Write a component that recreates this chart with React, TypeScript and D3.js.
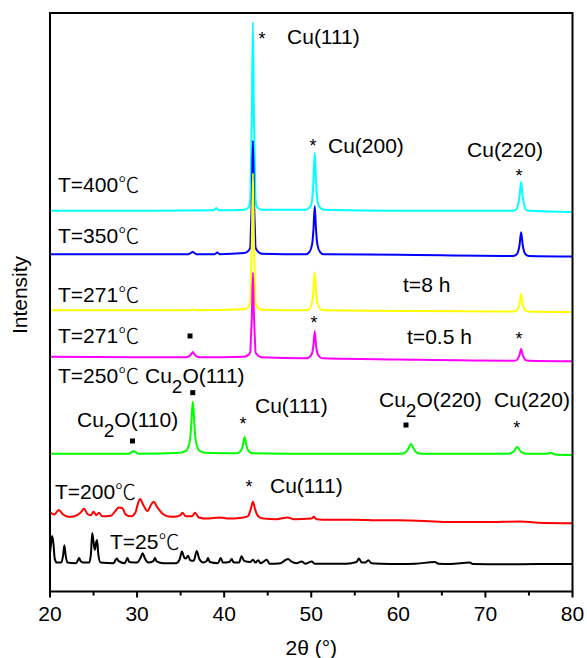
import React from "react";
import * as d3 from "d3";

// ---------- data (2θ in degrees, intensity in arbitrary offset units) ----------
const xTicks = [20, 30, 40, 50, 60, 70, 80];
const xMinorTicks = [25, 35, 45, 55, 65, 75];

const cyan400: [number, number][] = [
  [20, 65.8], [30, 65.8], [38.8, 65.9], [39.1, 66.3], [39.4, 65.9], [42.3, 66.0], [42.8, 66.4],
  [43.0, 67.8], [43.06, 72.3], [43.18, 82.1], [43.3, 98.4], [43.42, 82.1], [43.54, 72.3], [43.6, 67.8],
  [43.8, 66.4], [44.3, 66.0], [49.4, 66.0], [49.8, 66.4], [50.0, 66.9], [50.1, 67.8], [50.25, 70.8],
  [50.4, 75.8], [50.55, 70.8], [50.7, 67.8], [50.8, 66.9], [51.0, 66.4], [51.4, 66.0], [60, 65.8],
  [73.2, 65.8], [73.6, 66.1], [73.74, 66.8], [73.92, 68.3], [74.1, 70.8], [74.28, 68.3], [74.46, 66.8],
  [74.6, 66.1], [75.0, 65.8], [80, 65.6],
];
const blue350: [number, number][] = [
  [20, 58.3], [35.9, 58.3], [36.4, 58.7], [36.8, 58.3], [38.9, 58.3], [39.2, 58.6], [39.5, 58.3],
  [42.3, 58.5], [42.8, 58.9], [43.0, 59.5], [43.06, 62.2], [43.18, 68.1], [43.3, 77.9], [43.42, 68.1],
  [43.54, 62.2], [43.6, 59.5], [43.8, 58.9], [44.3, 58.4], [49.4, 58.3], [49.8, 58.7], [50.1, 60.0],
  [50.25, 62.5], [50.4, 66.6], [50.55, 62.5], [50.7, 60.0], [51.0, 58.7], [51.4, 58.3], [60, 58.2],
  [73.2, 58.0], [73.6, 58.3], [73.74, 58.7], [73.92, 59.9], [74.1, 62.1], [74.28, 59.9], [74.46, 58.7],
  [74.6, 58.3], [75.0, 58.0], [80, 57.9],
];
const yellow271_8h: [number, number][] = [
  [20, 48.6], [36.1, 48.6], [36.4, 48.8], [36.7, 48.6], [42.3, 48.8], [42.8, 49.2], [43.0, 50.0],
  [43.06, 53.3], [43.18, 60.4], [43.3, 72.3], [43.42, 60.4], [43.54, 53.3], [43.6, 50.0], [43.8, 49.2],
  [44.3, 48.7], [49.4, 48.6], [49.8, 48.9], [50.1, 50.0], [50.25, 51.9], [50.4, 55.2], [50.55, 51.9],
  [50.7, 50.0], [51.0, 48.9], [51.4, 48.6], [60, 48.5], [73.2, 48.4], [73.6, 48.6], [73.74, 48.9],
  [73.92, 49.7], [74.1, 51.4], [74.28, 49.7], [74.46, 48.9], [74.6, 48.6], [75.0, 48.4], [80, 48.3],
];
const magenta271_05h: [number, number][] = [
  [20, 40.6], [30, 40.5], [35.6, 40.5], [36.0, 40.7], [36.2, 41.0], [36.4, 41.4], [36.6, 41.0],
  [36.8, 40.7], [37.2, 40.5], [42.3, 40.6], [42.8, 40.9], [43.0, 41.4], [43.06, 43.3], [43.18, 47.7],
  [43.3, 55.1], [43.42, 47.7], [43.54, 43.3], [43.6, 41.4], [43.8, 40.9], [44.3, 40.5], [49.4, 40.3],
  [49.8, 40.5], [50.1, 41.2], [50.25, 42.6], [50.4, 45.0], [50.55, 42.6], [50.7, 41.2], [51.0, 40.5],
  [51.4, 40.3], [60, 40.1], [73.2, 39.9], [73.6, 40.0], [73.74, 40.3], [73.92, 40.9], [74.1, 41.9],
  [74.28, 40.9], [74.46, 40.3], [74.6, 40.0], [75.0, 39.9], [80, 39.8],
];
const green250: [number, number][] = [
  [20, 23.8], [29.0, 23.8], [29.4, 24.1], [29.6, 24.3], [29.8, 24.1], [30.2, 23.8], [35.0, 24.0],
  [35.6, 24.3], [36.0, 25.6], [36.2, 28.3], [36.3, 31.0], [36.4, 32.8], [36.5, 31.0], [36.6, 28.3],
  [36.8, 25.6], [37.2, 24.3], [37.8, 24.0], [41.5, 23.9], [41.95, 24.4], [42.15, 25.3], [42.35, 26.7],
  [42.55, 25.3], [42.75, 24.4], [43.2, 23.9], [50, 23.8], [60.3, 23.8], [60.85, 24.1], [61.15, 24.7],
  [61.45, 25.5], [61.75, 24.7], [62.05, 24.1], [62.6, 23.8], [72.6, 23.8], [73.05, 24.0], [73.35, 24.4],
  [73.65, 25.0], [73.95, 24.4], [74.25, 24.0], [74.8, 23.8], [77.0, 23.8], [77.5, 24.0], [78.0, 23.7],
  [80, 23.6],
];
const red200: [number, number][] = [
  [20.0, 13.7], [20.5, 13.3], [21.0, 14.1], [21.5, 13.3], [22.2, 12.9], [22.8, 13.0], [23.5, 13.6],
  [23.9, 14.3], [24.3, 13.4], [24.7, 13.2], [25.0, 13.8], [25.3, 13.2], [25.6, 13.6], [26.0, 13.0],
  [27.0, 13.1], [27.5, 13.9], [27.9, 14.5], [28.3, 14.4], [28.7, 13.3], [29.3, 13.0], [29.8, 13.6],
  [30.1, 15.2], [30.35, 16.0], [30.7, 15.0], [31.2, 13.9], [31.6, 15.0], [31.9, 15.5], [32.3, 14.6],
  [32.9, 13.5], [33.5, 13.0], [34.2, 12.9], [35.0, 13.2], [35.2, 13.6], [35.6, 13.0], [36.3, 13.0],
  [36.65, 13.6], [37.1, 12.8], [38, 12.6], [39.5, 12.8], [40.5, 12.6], [41.8, 12.7], [42.7, 13.0],
  [43.05, 14.2], [43.3, 15.5], [43.55, 14.2], [43.9, 13.0], [44.5, 12.6], [46, 12.5], [47.3, 12.8],
  [48, 12.5], [50.0, 12.6], [50.3, 12.9], [50.6, 12.5], [52, 12.4], [55, 12.4], [58, 12.3], [60, 12.3],
  [63, 12.2], [66, 12.0], [70, 12.0], [74, 12.1], [76, 11.9], [80, 11.8],
];
const black25: [number, number][] = [
  [20.0, 6.5], [20.1, 8.0], [20.25, 9.6], [20.4, 8.2], [20.55, 5.6], [20.8, 5.0], [21.3, 5.0],
  [21.5, 6.2], [21.65, 8.0], [21.8, 6.2], [22.0, 5.0], [23.0, 4.9], [23.2, 5.4], [23.35, 5.8],
  [23.5, 5.3], [23.8, 5.0], [24.5, 5.0], [24.7, 6.5], [24.85, 10.1], [25.05, 8.0], [25.15, 7.2],
  [25.3, 8.5], [25.4, 8.9], [25.55, 6.4], [25.8, 5.0], [27.3, 4.9], [27.55, 5.5], [27.7, 5.7],
  [27.85, 5.3], [28.6, 4.9], [28.9, 5.8], [29.1, 5.1], [30.0, 5.0], [30.4, 5.8], [30.65, 6.6],
  [30.9, 5.7], [31.3, 5.0], [31.9, 5.3], [32.05, 5.8], [32.25, 5.2], [33, 4.9], [34.5, 4.9],
  [34.9, 5.6], [35.15, 6.9], [35.4, 5.9], [35.6, 5.7], [35.85, 6.2], [36.1, 5.4], [36.5, 5.3],
  [36.85, 7.0], [37.15, 5.6], [37.6, 5.0], [38.0, 5.3], [38.15, 5.8], [38.35, 5.1], [39.3, 4.9],
  [39.6, 5.8], [39.85, 5.0], [40.6, 5.1], [40.86, 5.6], [41.1, 5.0], [41.7, 5.0], [42.0, 6.1],
  [42.3, 5.3], [43.0, 5.1], [43.3, 5.5], [43.6, 5.0], [43.9, 5.4], [44.2, 4.9], [44.9, 5.5],
  [45.2, 4.8], [46.5, 4.9], [47.0, 5.4], [47.35, 5.6], [47.7, 5.2], [48.3, 4.9], [48.9, 5.2],
  [49.3, 4.8], [50.05, 5.2], [50.4, 4.8], [52, 4.8], [54, 4.8], [55.2, 5.1], [55.48, 5.7],
  [55.8, 5.0], [56.2, 5.0], [56.55, 5.4], [56.9, 4.9], [58, 4.8], [60, 4.75], [62, 4.8], [64.2, 5.1],
  [64.6, 4.8], [66, 4.75], [68.2, 5.0], [68.6, 4.75], [72, 4.7], [76, 4.75], [80, 4.75],
];

const seriesNames = ["T=400℃", "T=350℃", "T=271℃ t=8 h", "T=271℃ t=0.5 h", "T=250℃", "T=200℃", "T=25℃"];
const seriesData = [cyan400, blue350, yellow271_8h, magenta271_05h, green250, red200, black25];
const seriesColors = ["#00FFFF", "#0000FF", "#FFFF00", "#FF00FF", "#00FF00", "#FF0000", "#000000"];

// text annotations placed in data coordinates
type Ann = { t: string; x: number; y: number; sub?: [string, string, string] };
const labels: Ann[] = [
  { t: "T=400℃", x: 20.92, y: 69.06 },
  { t: "Cu(111)", x: 47.22, y: 94.64 },
  { t: "Cu(200)", x: 51.92, y: 75.8 },
  { t: "Cu(220)", x: 67.89, y: 75.11 },
  { t: "T=350℃", x: 20.92, y: 60.24 },
  { t: "T=271℃", x: 20.92, y: 50.1 },
  { t: "t=8 h", x: 60.54, y: 51.77 },
  { t: "T=271℃", x: 20.92, y: 42.96 },
  { t: "t=0.5 h", x: 61.0, y: 42.78 },
  { t: "T=250℃", x: 20.92, y: 36.04 },
  { t: "", x: 30.91, y: 36.04, sub: ["Cu", "2", "O(111)"] },
  { t: "", x: 23.1, y: 28.49, sub: ["Cu", "2", "O(110)"] },
  { t: "Cu(111)", x: 43.54, y: 30.86 },
  { t: "", x: 57.78, y: 31.94, sub: ["Cu", "2", "O(220)"] },
  { t: "Cu(220)", x: 70.99, y: 31.94 },
  { t: "T=200℃", x: 20.57, y: 15.99 },
  { t: "Cu(111)", x: 45.26, y: 17.03 },
  { t: "T=25℃", x: 26.89, y: 7.35 },
];
// Cu peak markers (*) and Cu2O markers (■)
const starMarks: [number, number][] = [
  [44.35, 94.47], [50.2, 75.97], [73.86, 70.79], [50.32, 45.38], [73.86, 42.61],
  [42.16, 27.92], [73.59, 27.28], [42.85, 17.08],
];
const squareMarks: [number, number][] = [
  [36.08, 44.17], [36.39, 34.37], [29.47, 26.02], [60.88, 28.78],
];

// ---------- layout ----------
const W = 587, H = 658;
const L = 50, R = 572.5, T = 13, B = 591.5;
const FONT = "'Liberation Sans', Arial, sans-serif";
const CJK = "'Noto Sans CJK SC', 'Noto Sans CJK JP', sans-serif";
const FS = 21;

function renderLabel(t: string) {
  const idx = t.indexOf("℃");
  if (idx < 0) return t;
  return (
    <>
      {t.slice(0, idx)}
      <tspan fontFamily={CJK} fontWeight={300}>℃</tspan>
      {t.slice(idx + 1)}
    </>
  );
}

export default function App() {
  const x = d3.scaleLinear().domain([20, 80]).range([L, R]);
  const y = d3.scaleLinear().domain([0, 100]).range([B, T]);
  const line = d3
    .line<[number, number]>()
    .x((d) => x(d[0]))
    .y((d) => y(d[1]))
    .curve(d3.curveMonotoneX);

  return (
    <svg
      width={W}
      height={H}
      style={{ position: "absolute", left: 0, top: 0, background: "#fff" }}
      fontFamily={FONT}
    >
      <rect width={W} height={H} fill="#fff" />
      <defs>
        <clipPath id="plot">
          <rect x={L} y={T} width={R - L} height={B - T} />
        </clipPath>
      </defs>
      <g clipPath="url(#plot)">
        {seriesData.map((d, i) => (
          <path
            key={seriesNames[i]}
            d={line(d) || ""}
            fill="none"
            stroke={seriesColors[i]}
            strokeWidth={2}
            strokeLinejoin="round"
          />
        ))}
      </g>
      {/* annotations */}
      {labels.map((a, i) =>
        a.sub ? (
          <text key={i} x={x(a.x)} y={y(a.y)} fontSize={FS} fill="#000">
            {a.sub[0]}
            <tspan dy={10} fontSize={FS * 0.9}>{a.sub[1]}</tspan>
            <tspan dy={-10}>{a.sub[2]}</tspan>
          </text>
        ) : (
          <text key={i} x={x(a.x)} y={y(a.y)} fontSize={FS} fill="#000">
            {renderLabel(a.t)}
          </text>
        )
      )}
      {starMarks.map((m, i) => (
        <text key={"s" + i} x={x(m[0])} y={y(m[1])} fontSize={18} textAnchor="middle" fill="#000">
          *
        </text>
      ))}
      {squareMarks.map((m, i) => (
        <rect key={"q" + i} x={x(m[0]) - 2.5} y={y(m[1]) - 2.5} width={5} height={5} fill="#000" />
      ))}
      {/* frame */}
      <rect x={L} y={T} width={R - L} height={B - T} fill="none" stroke="#000" strokeWidth={2} />
      {/* x ticks */}
      {xTicks.map((t) => (
        <g key={t}>
          <line x1={x(t)} x2={x(t)} y1={B} y2={B + 6} stroke="#000" strokeWidth={2} />
          <text x={x(t)} y={621} fontSize={FS} textAnchor="middle" fill="#000">
            {t}
          </text>
        </g>
      ))}
      {xMinorTicks.map((t) => (
        <line key={"m" + t} x1={x(t)} x2={x(t)} y1={B} y2={B + 4} stroke="#000" strokeWidth={2} />
      ))}
      <text x={(L + R) / 2} y={655} fontSize={FS} textAnchor="middle" fill="#000">
        2θ (°)
      </text>
      <text
        transform={`translate(27, ${295}) rotate(-90)`}
        fontSize={FS}
        textAnchor="middle"
        fill="#000"
      >
        Intensity
      </text>
    </svg>
  );
}
